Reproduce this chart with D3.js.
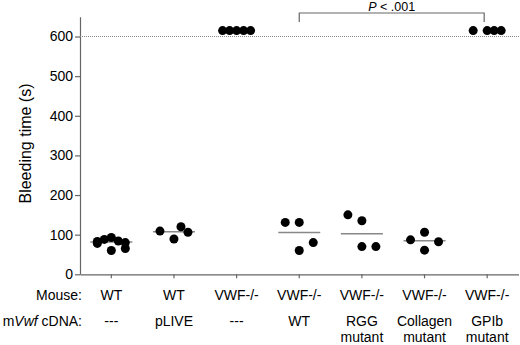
<!DOCTYPE html>
<html>
<head>
<meta charset="utf-8">
<script src="https://cdn.jsdelivr.net/npm/d3@7"></script>
<style>
  body { margin: 0; background: #fff; }
  text { font-family: "Liberation Sans", Arial, sans-serif; fill: #000; }
</style>
</head>
<body>
<svg width="520" height="345"></svg>
<script>
// groups along the x axis
const mouse = ["WT", "WT", "VWF-/-", "VWF-/-", "VWF-/-", "VWF-/-", "VWF-/-"];
const cdna = [["---"], ["pLIVE"], ["---"], ["WT"], ["RGG", "mutant"], ["Collagen", "mutant"], ["GPIb", "mutant"]];

// bleeding times (s); 615 = stopped at 600 s cut-off
const wtNone = [78, 83, 88, 60, 93, 84, 80, 65];
const wtPlive = [109, 89, 120, 106];
const koNone = [615, 615, 615, 615, 615];
const koWt = [131, 131, 60, 80];
const koRgg = [150, 135, 70, 70];
const koCollagen = [87, 106, 61, 82];
const koGpib = [615, 615, 615, 615];
const series = [wtNone, wtPlive, koNone, koWt, koRgg, koCollagen, koGpib];

const yTicks = [0, 100, 200, 300, 400, 500, 600];
const cutoff = 600;
const pLabel = ".001";

var svg = d3.select("svg");

var x = d3.scaleBand().domain(d3.range(mouse.length)).range([80, 518.5]);
var y = d3.scaleLinear().domain([0, 650]).range([274.3, 16.7]);
var cx = (i) => x(i) + x.bandwidth() / 2;

// spread points sideways so they don't sit on top of each other
function swarm(vals) {
  var n = vals.length;
  var base = vals.map((v, i) => (n === 1 ? 0 : -14 + (28 * i) / (n - 1)));
  var order = d3.range(n).sort((a, b) => Math.abs(base[a]) - Math.abs(base[b]));
  var off = new Array(n);
  var done = [];
  order.forEach((i) => {
    var s = Math.sign(base[i]) || 1;
    var cands = [];
    for (var c = 0; c < Math.abs(base[i]) - 0.01; c += 7) cands.push(c * s);
    cands.push(Math.ceil(Math.abs(base[i]) / 7 - 0.01) * 7 * s);
    var pick = cands.find((c) =>
      done.every((j) => Math.hypot(c - off[j], y(vals[i]) - y(vals[j])) >= 13)
    );
    off[i] = pick === undefined ? cands[cands.length - 1] : pick;
    done.push(i);
  });
  return off;
}

// y axis
var yAxis = svg
  .append("g")
  .attr("transform", "translate(80,0)")
  .call(d3.axisLeft(y).tickValues(yTicks).tickSize(5).tickSizeOuter(0).tickPadding(2));
yAxis.select(".domain").attr("stroke", "#666").attr("stroke-width", 1.2);
yAxis.selectAll(".tick line").attr("stroke", "#666").attr("stroke-width", 1.2);
yAxis.selectAll(".tick text").style("font-size", "14px").attr("fill", "#000");

// x axis
var xAxis = svg
  .append("g")
  .attr("transform", "translate(0," + y(0) + ")")
  .call(d3.axisBottom(x).tickSize(4).tickSizeOuter(0).tickFormat(""));
xAxis.select(".domain").attr("stroke", "#666").attr("stroke-width", 1.2);
xAxis.selectAll(".tick line").attr("stroke", "#666").attr("stroke-width", 1.2);

// cut-off line
svg
  .append("line")
  .attr("x1", 80)
  .attr("x2", 520)
  .attr("y1", y(cutoff))
  .attr("y2", y(cutoff))
  .attr("stroke", "#888")
  .attr("stroke-width", 1)
  .attr("stroke-dasharray", "1,1");

// y label
svg
  .append("text")
  .attr("transform", "translate(31," + y(330) + ") rotate(-90)")
  .attr("text-anchor", "middle")
  .style("font-size", "16px")
  .text("Bleeding time (s)");

// median lines
series.forEach((vals, i) => {
  if (d3.min(vals) > cutoff) return;
  var m = d3.median(vals);
  svg
    .append("line")
    .attr("x1", cx(i) - 21)
    .attr("x2", cx(i) + 21)
    .attr("y1", y(m))
    .attr("y2", y(m))
    .attr("stroke", "#888")
    .attr("stroke-width", 1.5);
});

// dots
series.forEach((vals, i) => {
  var off = swarm(vals);
  svg
    .append("g")
    .selectAll("circle")
    .data(vals)
    .enter()
    .append("circle")
    .attr("cx", (d, k) => cx(i) + off[k])
    .attr("cy", (d) => y(d))
    .attr("r", 4.5)
    .attr("fill", "#000");
});

// significance bracket
var b1 = cx(3), b2 = cx(6) - 3;
svg
  .append("path")
  .attr("d", "M" + b1 + ",22V13H" + b2 + "V22")
  .attr("fill", "none")
  .attr("stroke", "#666")
  .attr("stroke-width", 1.2);
var pt = svg
  .append("text")
  .attr("x", (b1 + b2) / 2)
  .attr("y", 11)
  .attr("text-anchor", "middle")
  .style("font-size", "12.5px");
pt.append("tspan").style("font-style", "italic").text("P");
pt.append("tspan").text(" < " + pLabel);

// category rows
svg
  .append("text")
  .attr("x", 82)
  .attr("y", 300)
  .attr("text-anchor", "end")
  .style("font-size", "14px")
  .text("Mouse:");
var cl = svg
  .append("text")
  .attr("x", 82)
  .attr("y", 326)
  .attr("text-anchor", "end")
  .style("font-size", "14px");
cl.append("tspan").text("m");
cl.append("tspan").style("font-style", "italic").text("Vwf");
cl.append("tspan").text(" cDNA:");

mouse.forEach((m, i) => {
  svg
    .append("text")
    .attr("x", cx(i))
    .attr("y", 300)
    .attr("text-anchor", "middle")
    .style("font-size", "14px")
    .text(m);
  cdna[i].forEach((line, k) => {
    svg
      .append("text")
      .attr("x", cx(i))
      .attr("y", 326 + k * 15.5)
      .attr("text-anchor", "middle")
      .style("font-size", "14px")
      .text(line);
  });
});
</script>
</body>
</html>
